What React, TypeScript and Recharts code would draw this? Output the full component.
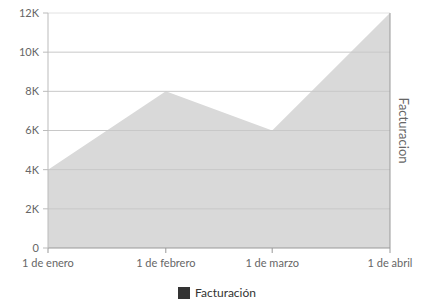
import { AreaChart, Area, XAxis, YAxis, Legend, ReferenceLine } from "recharts";

const fechas = ["1 de enero", "1 de febrero", "1 de marzo", "1 de abril"];
const dias = [0, 31, 59, 90];
const facturacion = [4000, 8000, 6000, 12000];
const yTicks = [0, 2000, 4000, 6000, 8000, 10000, 12000];

const datos = dias.map((d, i) => ({ dia: d, fecha: fechas[i], facturacion: facturacion[i] }));

const fuente = "Lato, 'Noto Sans', sans-serif";

const formatoK = (v: number) => (v === 0 ? "0" : `${v / 1000}K`);
const formatoFecha = (v: number) => fechas[dias.indexOf(v)] ?? "";

const LeyendaCustom = () => (
  <div style={{ display: "flex", justifyContent: "center", alignItems: "center", paddingTop: 7, paddingLeft: 8, fontFamily: fuente, fontSize: 12, color: "#333" }}>
    <span style={{ width: 12, height: 12, background: "#333", display: "inline-block", marginRight: 5 }} />
    <span>Facturación</span>
  </div>
);

export default function App() {
  return (
    <div style={{ position: "absolute", left: 0, top: 0, background: "#fff" }}>
      <AreaChart width={426} height={304} data={datos} margin={{ top: 13, right: 0, left: 0, bottom: 4 }}>
        <XAxis
          dataKey="dia"
          type="number"
          domain={[0, 90]}
          ticks={dias}
          tickFormatter={formatoFecha}
          stroke="#999"
          tick={{ fill: "#666", fontSize: 11, fontFamily: fuente }}
          tickSize={5}
          tickMargin={6}
          height={30}
          interval={0}
        />
        <YAxis
          yAxisId="left"
          domain={[0, 12000]}
          ticks={yTicks}
          tickFormatter={formatoK}
          stroke="#bbb"
          tick={{ fill: "#666", fontSize: 11, fontFamily: fuente }}
          tickSize={5}
          tickMargin={4}
          width={48}
        />
        <YAxis
          yAxisId="right"
          orientation="right"
          domain={[0, 12000]}
          ticks={yTicks}
          tickFormatter={() => ""}
          stroke="#999"
          tickSize={5}
          width={36}
          label={{ value: "Facturacion", angle: 90, position: "center", dx: -4, fill: "#666", fontSize: 13, fontFamily: fuente }}
        />
        <Area
          yAxisId="left"
          type="linear"
          dataKey="facturacion"
          name="Facturación"
          stroke="none"
          fill="#d9d9d9"
          fillOpacity={1}
          isAnimationActive={false}
        />
        {yTicks.slice(1).map((t) => (
          <ReferenceLine key={t} yAxisId="left" y={t} stroke={t === 12000 ? "#e2e2e2" : "#c8c8c8"} />
        ))}
        <Legend verticalAlign="bottom" height={22} content={<LeyendaCustom />} />
      </AreaChart>
    </div>
  );
}
